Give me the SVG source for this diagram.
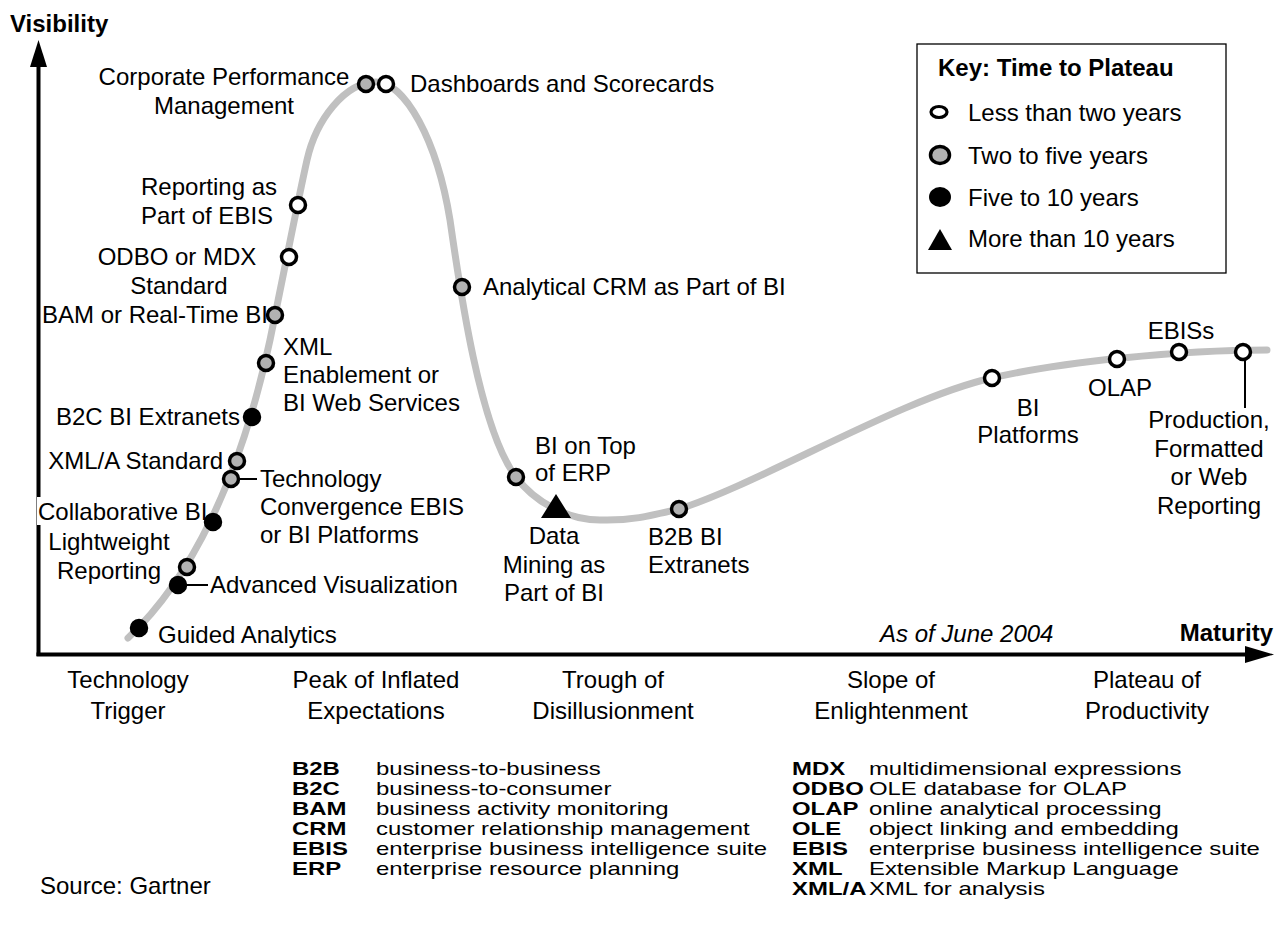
<svg xmlns="http://www.w3.org/2000/svg" width="1283" height="936" viewBox="0 0 1283 936">
<style>
text{font-family:"Liberation Sans",Arial,Helvetica,sans-serif;font-size:24px;fill:#000}
.b{font-weight:bold}
.m{text-anchor:middle}
.e{text-anchor:end}
.lg{font-size:17.8px}
.w{fill:#fff;stroke:#000;stroke-width:3.5}
.g{fill:#b2b2b2;stroke:#000;stroke-width:3.5}
.k{fill:#000;stroke:#000;stroke-width:3.5}
.ax{stroke:#000;stroke-width:4;fill:none}
.ld{stroke:#000;stroke-width:2;fill:none}
</style>
<rect width="1283" height="936" fill="#fff"/>
<g id="axes">
<line class="ax" x1="38.5" y1="62" x2="38.5" y2="656"/>
<polygon points="38.5,40 30,67 47,67" fill="#000"/>
<line class="ax" x1="36.5" y1="654.5" x2="1250" y2="654.5"/>
<polygon points="1274,654.5 1245,646 1245,663" fill="#000"/>
<text class="b" x="10" y="32">Visibility</text>
<text class="b e" x="1273" y="641" font-size="26">Maturity</text>
</g>
<g id="connectors">
<path d="M128,638 C190,580 240,480 270,340 C280,292 298,200 307,160 C316,120 345,82 376,82 C405,82 437,140 450,220 C460,290 480,430 516,477 C536,504 570,520 600,520 C630,521 650,516 679,509 C759,484 902,398 992,378 C1060,362 1180,350 1267,350" fill="none" stroke="#c0c0c0" stroke-width="7" stroke-linecap="round"/>
<line class="ld" x1="240" y1="479" x2="257" y2="479"/>
<line class="ld" x1="187" y1="585" x2="208" y2="585"/>
<line class="ld" x1="1245" y1="361" x2="1245" y2="408"/>
</g>
<g id="corporate-performance"><circle class="g" cx="366" cy="84" r="7.5"/><text class="m" x="224" y="85">Corporate Performance</text><text class="m" x="224" y="114">Management</text></g>
<g id="dashboards"><circle class="w" cx="386" cy="84" r="7.5"/><text x="410" y="92">Dashboards and Scorecards</text></g>
<g id="reporting-ebis"><circle class="w" cx="298" cy="205" r="7.5"/><text x="141" y="195">Reporting as</text><text x="141" y="224">Part of EBIS</text></g>
<g id="odbo"><circle class="w" cx="289" cy="257" r="7.5"/><text class="m" x="177" y="265">ODBO or MDX</text><text class="m" x="179" y="294">Standard</text></g>
<g id="bam"><text x="42" y="323">BAM or Real-Time BI</text><circle class="g" cx="275" cy="315" r="7.5"/></g>
<g id="xml-enablement"><circle class="g" cx="266" cy="363" r="7.5"/><text x="283" y="355">XML</text><text x="283" y="383">Enablement or</text><text x="283" y="411">BI Web Services</text></g>
<g id="b2c"><circle class="k" cx="252" cy="417" r="7.5"/><text class="e" x="240" y="425">B2C BI Extranets</text></g>
<g id="xmla"><circle class="g" cx="237" cy="461" r="7.5"/><text class="e" x="223" y="469">XML/A Standard</text></g>
<g id="tech-convergence"><circle class="g" cx="231" cy="479" r="7.5"/><text x="260" y="487">Technology</text><text x="260" y="515">Convergence EBIS</text><text x="260" y="543">or BI Platforms</text></g>
<g id="collaborative"><rect x="37" y="497" width="170" height="28" fill="#fff"/><text x="38" y="520">Collaborative BI</text><circle class="k" cx="213" cy="522" r="7.5"/></g>
<g id="lightweight"><circle class="g" cx="187" cy="567" r="7.5"/><text class="m" x="109" y="550">Lightweight</text><text class="m" x="109" y="579">Reporting</text></g>
<g id="advanced-vis"><circle class="k" cx="178" cy="585" r="7.5"/><text x="210" y="593">Advanced Visualization</text></g>
<g id="guided"><circle class="k" cx="139" cy="628" r="7.5"/><text x="158" y="643">Guided Analytics</text></g>
<g id="analytical-crm"><circle class="g" cx="462" cy="287" r="7.5"/><text x="483" y="295">Analytical CRM as Part of BI</text></g>
<g id="bi-erp"><circle class="g" cx="516" cy="477" r="7.5"/><text x="535" y="454">BI on Top</text><text x="535" y="481">of ERP</text></g>
<g id="data-mining"><polygon points="556,494 541,518 571,518" fill="#000"/><text class="m" x="554" y="544">Data</text><text class="m" x="554" y="573">Mining as</text><text class="m" x="554" y="601">Part of BI</text></g>
<g id="b2b"><circle class="g" cx="679" cy="509" r="7.5"/><text x="648" y="545">B2B BI</text><text x="648" y="573">Extranets</text></g>
<g id="bi-platforms"><circle class="w" cx="992" cy="378" r="7.5"/><text class="m" x="1028" y="416">BI</text><text class="m" x="1028" y="443">Platforms</text></g>
<g id="olap"><circle class="w" cx="1117" cy="359" r="7.5"/><text class="m" x="1120" y="396">OLAP</text></g>
<g id="ebiss"><circle class="w" cx="1179" cy="352" r="7.5"/><text class="m" x="1181" y="339">EBISs</text></g>
<g id="production"><circle class="w" cx="1243" cy="352" r="7.5"/><text class="m" x="1209" y="428">Production,</text><text class="m" x="1209" y="457">Formatted</text><text class="m" x="1209" y="485">or Web</text><text class="m" x="1209" y="514">Reporting</text></g>
<g id="date"><text x="880" y="642" font-style="italic">As of June 2004</text></g>
<g id="key">
<rect x="917" y="44" width="309" height="229" fill="#fff" stroke="#000" stroke-width="1.3"/>
<text class="b" x="938" y="76">Key: Time to Plateau</text>
<ellipse cx="939" cy="112" rx="8" ry="5.5" fill="#fff" stroke="#000" stroke-width="3.2"/>
<text x="968" y="120.5">Less than two years</text>
<ellipse cx="940" cy="155" rx="9.5" ry="8.5" fill="#b2b2b2" stroke="#000" stroke-width="3.5"/>
<text x="968" y="163.5">Two to five years</text>
<ellipse cx="940" cy="197" rx="11" ry="10" fill="#000"/>
<text x="968" y="205.5">Five to 10 years</text>
<polygon points="940,229 928,250 952,250" fill="#000"/>
<text x="968" y="246.5">More than 10 years</text>
</g>
<g id="phases">
<text class="m" x="128" y="688">Technology</text><text class="m" x="128" y="719">Trigger</text>
<text class="m" x="376" y="688">Peak of Inflated</text><text class="m" x="376" y="719">Expectations</text>
<text class="m" x="613" y="688">Trough of</text><text class="m" x="613" y="719">Disillusionment</text>
<text class="m" x="891" y="688">Slope of</text><text class="m" x="891" y="719">Enlightenment</text>
<text class="m" x="1147" y="688">Plateau of</text><text class="m" x="1147" y="719">Productivity</text>
</g>
<g id="glossary-left" transform="translate(292 0) scale(1.345 1)">
<text class="lg b" x="0" y="775">B2B</text><text class="lg" x="62.5" y="775">business-to-business</text>
<text class="lg b" x="0" y="795">B2C</text><text class="lg" x="62.5" y="795">business-to-consumer</text>
<text class="lg b" x="0" y="815">BAM</text><text class="lg" x="62.5" y="815">business activity monitoring</text>
<text class="lg b" x="0" y="835">CRM</text><text class="lg" x="62.5" y="835">customer relationship management</text>
<text class="lg b" x="0" y="855">EBIS</text><text class="lg" x="62.5" y="855">enterprise business intelligence suite</text>
<text class="lg b" x="0" y="875">ERP</text><text class="lg" x="62.5" y="875">enterprise resource planning</text>
</g>
<g id="glossary-right" transform="translate(792 0) scale(1.345 1)">
<text class="lg b" x="0" y="775">MDX</text><text class="lg" x="57.2" y="775">multidimensional expressions</text>
<text class="lg b" x="0" y="795">ODBO</text><text class="lg" x="57.2" y="795">OLE database for OLAP</text>
<text class="lg b" x="0" y="815">OLAP</text><text class="lg" x="57.2" y="815">online analytical processing</text>
<text class="lg b" x="0" y="835">OLE</text><text class="lg" x="57.2" y="835">object linking and embedding</text>
<text class="lg b" x="0" y="855">EBIS</text><text class="lg" x="57.2" y="855">enterprise business intelligence suite</text>
<text class="lg b" x="0" y="875">XML</text><text class="lg" x="57.2" y="875">Extensible Markup Language</text>
<text class="lg b" x="0" y="895">XML/A</text><text class="lg" x="57.2" y="895">XML for analysis</text>
</g>
<g id="source"><text x="40" y="894" font-size="16">Source: Gartner</text></g>
</svg>
